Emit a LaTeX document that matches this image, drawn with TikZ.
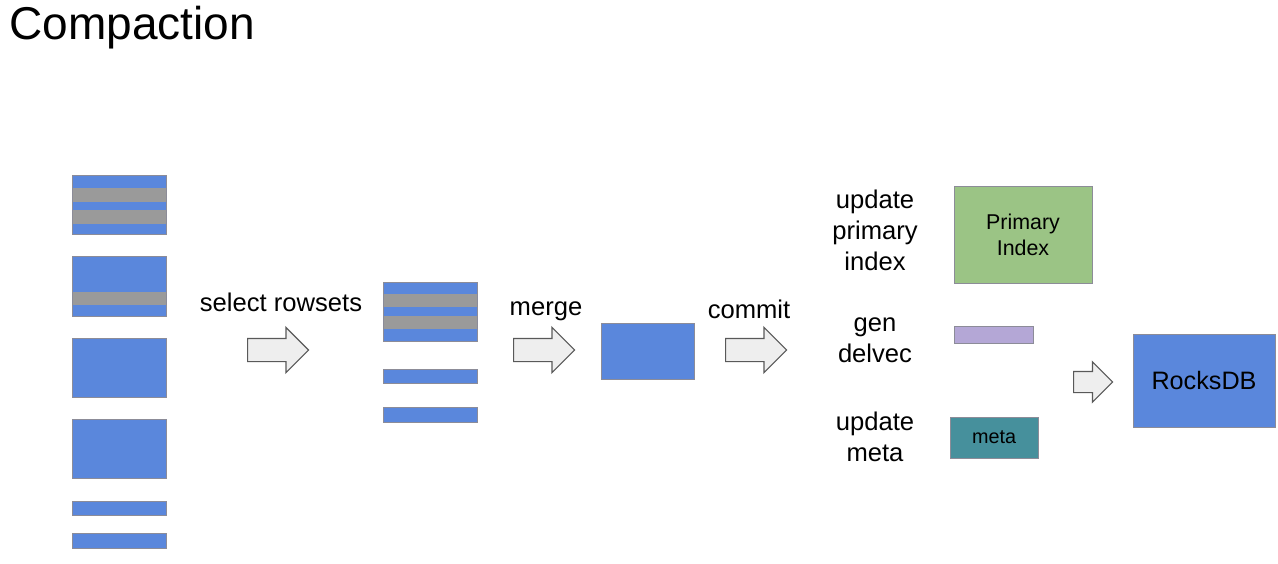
\documentclass[tikz,border=0pt]{standalone}
\usepackage{fontspec}
\setmainfont{Liberation Sans}
\usetikzlibrary{shapes.arrows}
\definecolor{rowblue}{HTML}{5A87DC}
\definecolor{rowgray}{HTML}{9A9A9A}
\definecolor{edgegray}{HTML}{8C8C98}
\definecolor{pkgreen}{HTML}{9BC485}
\definecolor{dvpurple}{HTML}{B4A7D6}
\definecolor{metateal}{HTML}{46909C}
\definecolor{arrowfill}{HTML}{EEEEEE}
\tikzset{
  rowset/.style={draw=edgegray,fill=rowblue,line width=0.5pt,inner sep=0pt,outer sep=0pt,anchor=north west},
  stripe/.style={fill=rowgray},
  label/.style={align=center,font=\fontsize{12.8}{15.5}\selectfont,inner sep=0pt},
  bigarrow/.style={single arrow,draw=black!65,fill=arrowfill,line width=0.6pt,
    inner sep=5.5pt,single arrow head extend=5.5pt,minimum height=30.5pt,anchor=tail}
}
\begin{document}
\begin{tikzpicture}[x=0.5pt,y=-0.5pt]
\useasboundingbox[fill=white] (0,0) rectangle (1278,563);
\node[anchor=base west,inner sep=0pt,font=\fontsize{23}{27}\selectfont] (title) at (9,39) {Compaction};
% input rowsets
\node[rowset,minimum width=47pt,minimum height=29.5pt] (in1) at (72,175) {};
\fill[stripe] (72.5,188) rectangle (165.5,201.5);
\fill[stripe] (72.5,210) rectangle (165.5,224);
\node[rowset,minimum width=47pt,minimum height=30pt] (in2) at (72,256) {};
\fill[stripe] (72.5,292) rectangle (165.5,305);
\node[rowset,minimum width=47pt,minimum height=29.5pt] (in3) at (72,338) {};
\node[rowset,minimum width=47pt,minimum height=29.5pt] (in4) at (72,419) {};
\node[rowset,minimum width=47pt,minimum height=7pt] (in5) at (72,501) {};
\node[rowset,minimum width=47pt,minimum height=7.5pt] (in6) at (72,533) {};
\node[bigarrow] (selarrow) at (247,350) {};
\node[label] (sel) at (281,302) {select rowsets};
% selected rowsets
\node[rowset,minimum width=47pt,minimum height=29.5pt] (sel1) at (383,282) {};
\fill[stripe] (383.5,294) rectangle (476.5,307);
\fill[stripe] (383.5,316) rectangle (476.5,329);
\node[rowset,minimum width=47pt,minimum height=7pt] (sel2) at (383,369) {};
\node[rowset,minimum width=47pt,minimum height=7.5pt] (sel3) at (383,407) {};
\node[bigarrow] (mergearrow) at (513,350) {};
\node[label] (merge) at (546,311) {merge};
% merged output
\node[rowset,minimum width=46.5pt,minimum height=28pt] (out) at (601,323) {};
\node[bigarrow] (commitarrow) at (725,350) {};
\node[label] (commit) at (749,309) {commit};
% commit steps
\node[label] (updpk) at (875,230) {update\\primary\\index};
\node[rowset,fill=pkgreen,minimum width=69pt,minimum height=48.5pt,
  align=center,font=\fontsize{10.7}{13}\selectfont] (pk) at (954,186) {Primary\\Index};
\node[label] (gendv) at (875,340) {gen\\delvec};
\node[rowset,fill=dvpurple,minimum width=39.5pt,minimum height=8.5pt] (dv) at (954,326) {};
\node[label] (updmeta) at (875,437) {update\\meta};
\node[rowset,fill=metateal,minimum width=44pt,minimum height=20.5pt,
  font=\fontsize{9.9}{12}\selectfont] (meta) at (950,417) {meta};
\node[bigarrow,inner sep=5pt,single arrow head extend=4.75pt,minimum height=19.5pt] (rdbarrow) at (1073,382) {};
\node[rowset,minimum width=71pt,minimum height=46.5pt,font=\fontsize{12.6}{15}\selectfont] (rocks) at (1133,334) {RocksDB};
\end{tikzpicture}
\end{document}
